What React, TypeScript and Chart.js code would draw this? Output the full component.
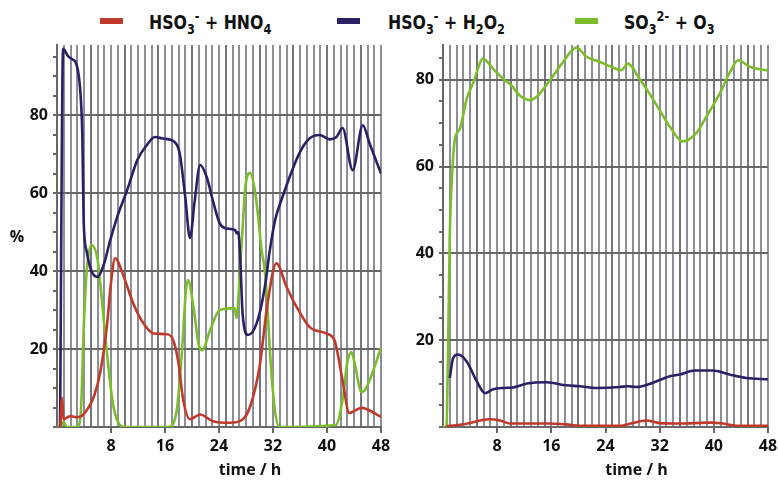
import React, { useEffect, useRef } from 'react';
import { Chart, registerables } from 'chart.js';

Chart.register(...registerables);

// ---------- data (hours, percent) ----------
const xTickLabels = [8, 16, 24, 32, 40, 48];
const yTickLabels = [20, 40, 60, 80];

const legendLabels = ['HSO3- + HNO4', 'HSO3- + H2O2', 'SO3 2- + O3'];

// Left panel
const leftHNO4Time = [0.5, 0.75, 0.95, 2, 3, 3.8, 4.6, 5.5, 6.4, 7.4, 8, 8.6, 9.9, 11.3, 12.8, 14.3, 16.3, 17.2, 18, 18.7, 19.7, 21.2, 23.1, 25.6, 27.4, 28.6, 30, 31.2, 32.5, 34, 35.5, 37.4, 39.9, 41.1, 42.3, 43.3, 45.1, 48];
const leftHNO4Value = [0, 7.5, 2, 2.8, 2.5, 3, 4.8, 8, 14, 26, 37, 43.3, 38.5, 31.7, 26.6, 24, 23.8, 22.3, 16.4, 6.9, 2, 3.2, 1.5, 1.1, 1.8, 5.2, 15.4, 31.8, 42, 36, 30.8, 25.7, 24, 22.3, 12, 3.6, 4.9, 2.6];

const leftH2O2Time = [0.45, 0.9, 1.7, 2.5, 2.7, 3.1, 3.4, 3.6, 3.75, 3.95, 4.4, 5.1, 6, 6.9, 7.9, 8.9, 10.4, 11.9, 13.3, 14.5, 15.7, 17.5, 18.2, 19, 19.7, 20.4, 21.2, 22.2, 23.1, 24.1, 24.9, 26.4, 26.6, 26.85, 27.1, 27.5, 28.3, 29.6, 30.8, 31.5, 32.3, 33.4, 35.9, 37.4, 38.9, 40.4, 41.4, 42.3, 43.8, 45.3, 46.3, 48];
const leftH2O2Value = [0, 97, 95, 94.1, 93.8, 91.5, 87.3, 82, 75, 53, 45, 40, 38.5, 41.5, 48, 53.8, 60.8, 68.5, 72.3, 74.4, 74, 73, 70, 59, 48.5, 58, 67.2, 64, 58, 52.3, 51, 50.5, 49.7, 50, 45, 29, 23.6, 26.7, 36, 45, 53, 59, 70.2, 74, 74.9, 73.8, 74.4, 76.7, 65.9, 77.4, 72.8, 65];

const leftO3Time = [0, 0.6, 0.9, 1.5, 3.0, 3.5, 4.0, 4.4, 5.1, 6.0, 6.7, 7.4, 8.2, 8.9, 10, 16.5, 17.2, 17.8, 18.5, 19.1, 19.4, 20.2, 21.0, 21.5, 22.7, 24.1, 26.3, 26.6, 27.1, 27.6, 27.9, 28.6, 29.3, 29.8, 30.3, 30.8, 31.2, 31.6, 32.3, 33, 41.3, 42.3, 43, 43.6, 44.1, 45.1, 45.8, 48];
const leftO3Value = [0, 0.3, 1.3, 0, 0, 3, 27, 40, 46.7, 43, 31.7, 19, 7, 1.8, 0, 0, 0.8, 5, 19, 35, 37.7, 31, 21, 19.7, 24.9, 30, 30.5, 28, 40, 54, 61.6, 65.2, 60.8, 54, 45.4, 40, 30, 18, 4, 0, 0.5, 7, 16.4, 19.2, 16.4, 9, 10, 20.3];

// Right panel
const rightHNO4Time = [0.5, 2.5, 4, 5.5, 6.9, 8.4, 9.9, 15.3, 18.2, 20.2, 26, 28, 30, 32, 35, 39.4, 41.3, 43.3, 48];
const rightHNO4Value = [0.2, 0.5, 0.9, 1.5, 1.8, 1.5, 0.8, 0.8, 0.6, 0.3, 0.3, 0.9, 1.5, 0.9, 0.8, 1, 0.8, 0.3, 0.3];

const rightH2O2Time = [1, 1.5, 2.2, 3.5, 5, 6.2, 7.4, 8.9, 10.3, 12.4, 15.3, 18.2, 20.2, 22.7, 26.1, 27.3, 28.6, 30.5, 33.5, 35, 37.2, 39.8, 42.3, 44.8, 48];
const rightH2O2Value = [11.3, 15.9, 16.7, 15.1, 10.5, 7.8, 8.7, 9, 9.1, 10, 10.3, 9.6, 9.4, 9, 9.2, 9.4, 9.2, 9.9, 11.7, 12.1, 13, 13, 12.1, 11.3, 11];

const rightO3Time = [0, 0.5, 0.75, 1.0, 1.43, 1.77, 2.5, 3.5, 4.5, 5.9, 7.4, 8.9, 10.1, 11.3, 12.8, 13.8, 15.8, 17.7, 19.7, 21.2, 23.2, 25.1, 26.3, 27.3, 29, 30.5, 32, 33.5, 35.4, 37.4, 38.9, 40.9, 42.3, 43.6, 45.3, 48];
const rightO3Value = [0, 0, 18, 44, 60.4, 66.4, 68.7, 75.6, 79.4, 84.8, 82.5, 80.2, 78.7, 76.4, 75.3, 76, 79.9, 84, 87.4, 85.3, 84.1, 82.8, 82.2, 83.7, 80.3, 76.8, 73, 69.2, 65.8, 67.7, 71.5, 76.9, 81.5, 84.5, 83, 82.1];

// ---------- styles ----------
const RED = '#c03a2c';
const BLUE = '#2b2068';
const GREEN = '#7cbd2b';
const LIGHT = '#8e8e98';
const VDARK = '#74747c';
const DARK = '#676767';
const TEXT = '#111111';
const FONT = '"Open Sans", "DejaVu Sans", sans-serif';

const toPoints = (t: number[], v: number[]) => t.map((x, i) => ({ x, y: v[i] }));

const axisTextPlugin = {
  id: 'axisText',
  afterDraw(chart: any, _args: any, o: any) {
    const { ctx, chartArea } = chart;
    ctx.save();
    ctx.font = 'bold 16px ' + FONT;
    ctx.fillStyle = TEXT;
    ctx.textAlign = 'center';
    ctx.textBaseline = 'middle';
    ctx.fillText(o.xTitle, (chartArea.left + chartArea.right) / 2 + o.xShift, chartArea.bottom + o.xDy);
    if (o.yTitle) {
      ctx.fillText(o.yTitle, o.yX, (chartArea.top + chartArea.bottom) / 2 + o.yDy);
    }
    ctx.restore();
  },
};

function makeConfig(p: {
  series: { t: number[]; v: number[]; color: string; label: string }[];
  yMax: number;
  yWidth: number;
  padRight: number;
  yTitle: string;
}): any {
  return {
    type: 'line',
    data: {
      datasets: p.series.map((s) => ({
        label: s.label,
        data: toPoints(s.t, s.v),
        borderColor: s.color,
        backgroundColor: s.color,
        borderWidth: 2.6,
        pointRadius: 0,
        fill: false,
        cubicInterpolationMode: 'monotone',
      })),
    },
    options: {
      animation: false,
      responsive: false,
      devicePixelRatio: 1,
      events: [],
      layout: { padding: { top: 9, right: p.padRight, left: 0, bottom: 0 } },
      plugins: {
        legend: { display: false },
        tooltip: { enabled: false },
        axisText: { xTitle: 'time / h', xShift: 31, xDy: 43, yTitle: p.yTitle, yX: 17, yDy: 1 },
      },
      scales: {
        x: {
          type: 'linear',
          min: 0,
          max: 48,
          afterFit: (s: any) => {
            s.height = 53;
            s.paddingLeft = 0;
            s.paddingRight = 0;
          },
          ticks: {
            stepSize: 1,
            autoSkip: false,
            maxRotation: 0,
            includeBounds: false,
            padding: 4,
            color: TEXT,
            font: { family: FONT, weight: 'bold', size: 16 },
            callback: (v: number) => (xTickLabels.includes(v) ? String(v) : ''),
          },
          grid: {
            lineWidth: 2,
            color: (c: any) => (c.tick && c.tick.value % 5 === 0 ? VDARK : LIGHT),
            tickLength: 6,
            tickColor: (c: any) => (c.tick && xTickLabels.includes(c.tick.value) ? DARK : 'rgba(0,0,0,0)'),
          },
          border: { display: true, color: DARK, width: 2 },
        },
        y: {
          type: 'linear',
          min: 0,
          max: p.yMax,
          afterFit: (s: any) => {
            s.width = p.yWidth;
            s.paddingTop = 0;
            s.paddingBottom = 0;
          },
          ticks: {
            stepSize: 5,
            includeBounds: false,
            autoSkip: false,
            padding: 5,
            color: TEXT,
            font: { family: FONT, weight: 'bold', size: 16 },
            callback: (v: number) => (yTickLabels.includes(v) ? String(v) : ''),
          },
          grid: {
            lineWidth: 2,
            color: (c: any) => (c.tick && c.tick.value % 20 === 0 ? DARK : 'rgba(0,0,0,0)'),
            tickLength: 4,
            tickColor: DARK,
          },
          border: { display: true, color: DARK, width: 2 },
        },
      },
    },
    plugins: [axisTextPlugin],
  };
}

function Panel(props: { config: any; left: number; width: number }) {
  const ref = useRef<HTMLCanvasElement | null>(null);
  useEffect(() => {
    if (!ref.current) return;
    const chart = new Chart(ref.current, props.config);
    return () => chart.destroy();
  }, []);
  return (
    <canvas
      ref={ref}
      width={props.width}
      height={444}
      style={{ position: 'absolute', left: props.left, top: 36, width: props.width, height: 444 }}
    />
  );
}

const legendStyle: React.CSSProperties = {
  position: 'absolute',
  top: 10,
  fontFamily: '"Liberation Sans Narrow", "DejaVu Sans Condensed", "Liberation Sans", sans-serif',
  fontWeight: 'bold',
  fontSize: 20,
  lineHeight: '24px',
  color: TEXT,
  whiteSpace: 'nowrap',
  transform: 'scaleX(0.875)',
  transformOrigin: '0 0',
};
const subStyle: React.CSSProperties = { fontSize: '0.72em', verticalAlign: '-0.35em', lineHeight: 0 };
const supStyle: React.CSSProperties = { fontSize: '0.72em', verticalAlign: '0.55em', lineHeight: 0 };

function Swatch(props: { left: number; color: string }) {
  return <div style={{ position: 'absolute', left: props.left, top: 18, width: 23, height: 6, background: props.color }} />;
}

export default function App() {
  const leftConfig = makeConfig({
    series: [
      { t: leftHNO4Time, v: leftHNO4Value, color: RED, label: legendLabels[0] },
      { t: leftH2O2Time, v: leftH2O2Value, color: BLUE, label: legendLabels[1] },
      { t: leftO3Time, v: leftO3Value, color: GREEN, label: legendLabels[2] },
    ],
    yMax: 98,
    yWidth: 57,
    padRight: 11,
    yTitle: '%',
  });
  const rightConfig = makeConfig({
    series: [
      { t: rightHNO4Time, v: rightHNO4Value, color: RED, label: legendLabels[0] },
      { t: rightH2O2Time, v: rightH2O2Value, color: BLUE, label: legendLabels[1] },
      { t: rightO3Time, v: rightO3Value, color: GREEN, label: legendLabels[2] },
    ],
    yMax: 88,
    yWidth: 51,
    padRight: 10,
    yTitle: '',
  });
  return (
    <div style={{ position: 'absolute', left: 0, top: 0, width: 778, height: 480, background: '#fff', overflow: 'hidden' }}>
      <Swatch left={100} color={RED} />
      <div style={{ ...legendStyle, left: 149 }}>
        HSO<span style={subStyle}>3</span><span style={supStyle}>-</span> + HNO<span style={subStyle}>4</span>
      </div>
      <Swatch left={337} color={BLUE} />
      <div style={{ ...legendStyle, left: 388 }}>
        HSO<span style={subStyle}>3</span><span style={supStyle}>-</span> + H<span style={subStyle}>2</span>O<span style={subStyle}>2</span>
      </div>
      <Swatch left={575} color={GREEN} />
      <div style={{ ...legendStyle, left: 624 }}>
        SO<span style={subStyle}>3</span><span style={supStyle}>2-</span> + O<span style={subStyle}>3</span>
      </div>
      <Panel config={leftConfig} left={0} width={392} />
      <Panel config={rightConfig} left={392} width={386} />
    </div>
  );
}
